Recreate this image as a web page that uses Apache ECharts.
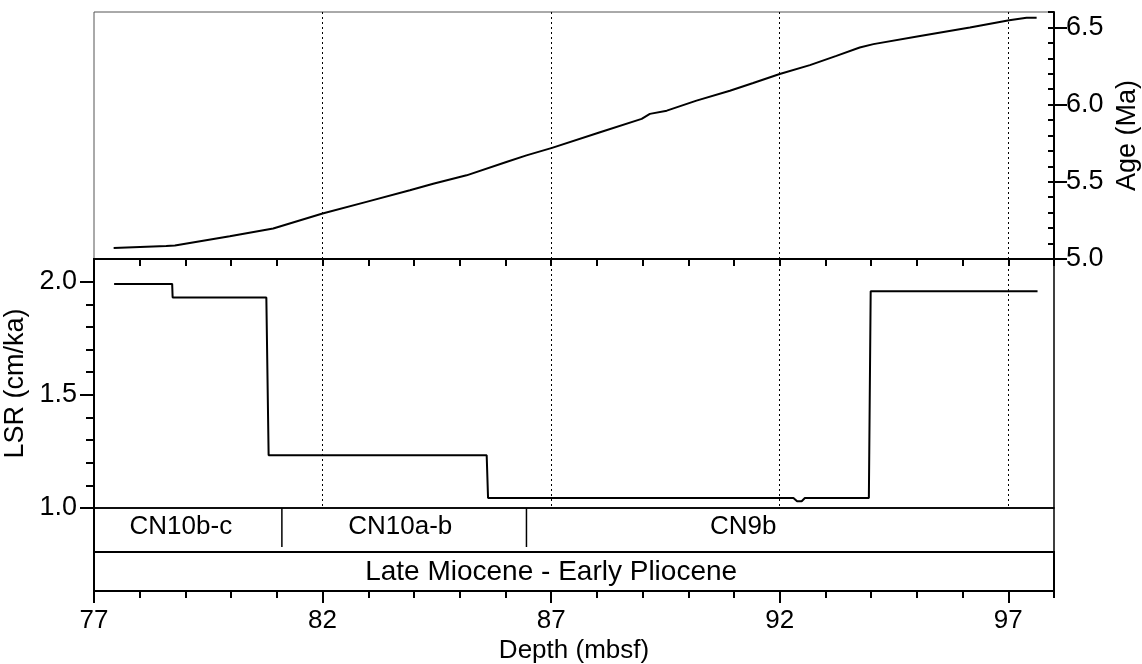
<!DOCTYPE html>
<html>
<head>
<meta charset="utf-8">
<script src="https://cdn.jsdelivr.net/npm/echarts@6/dist/echarts.min.js"></script>
<style>
  html, body { margin: 0; padding: 0; background: #fff; }
  #chart { width: 1142px; height: 664px; }
</style>
</head>
<body>
<div id="chart"></div>
<script>
// Age model: depth (mbsf) vs. age (Ma)
const ageDepth = [77.43, 78.58, 78.77, 79.97, 80.92, 82.00, 82.96, 83.91, 84.42, 85.15, 86.02, 86.46, 87.02, 88.07, 88.98, 89.16, 89.53, 90.18, 90.91, 91.42, 92.00, 92.66, 93.24, 93.75, 94.05, 95.07, 96.16, 97.02, 97.40, 97.62];
const ageMa    = [5.071, 5.084, 5.088, 5.148, 5.198, 5.295, 5.370, 5.445, 5.488, 5.542, 5.628, 5.671, 5.720, 5.821, 5.908, 5.940, 5.961, 6.026, 6.090, 6.140, 6.198, 6.256, 6.316, 6.370, 6.392, 6.445, 6.499, 6.546, 6.563, 6.563];

// Linear sedimentation rate: depth (mbsf) vs. LSR (cm/ka)
const lsrDepth = [77.44, 78.71, 78.72, 80.77, 80.82, 85.59, 85.62, 92.30, 92.38, 92.48, 92.55, 93.95, 93.99, 97.64];
const lsrRate  = [1.99, 1.99, 1.93, 1.93, 1.233, 1.233, 1.044, 1.044, 1.030, 1.030, 1.044, 1.044, 1.958, 1.958];

// Nannofossil zones and the epoch band
const zoneNames = ['CN10b-c', 'CN10a-b', 'CN9b'];
const zoneTop   = [77, 81.11, 86.46];
const zoneBase  = [81.11, 86.46, 98];
const zoneLabelAt = [78.9, 83.7, 91.2];
const epochName = 'Late Miocene - Early Pliocene';
const epochLabelAt = 87;

// Tick labels
const depthTicks = [77, 82, 87, 92, 97];
const ageTicks = [5.0, 5.5, 6.0, 6.5];
const lsrTicks = [1.0, 1.5, 2.0];

const FONT = 'Liberation Sans, Arial, sans-serif';
const chart = echarts.init(document.getElementById('chart'), null, { renderer: 'canvas' });

const dotted = { show: true, showMinLine: false, showMaxLine: false, lineStyle: { color: '#000', width: 1, type: [2, 3] } };

const gridBase = { left: 94, right: 88, containLabel: false, outerBoundsMode: 'none', show: true, backgroundColor: 'transparent' };

const option = {
  animation: false,
  backgroundColor: '#fff',
  grid: [
    Object.assign({}, gridBase, { top: 12, height: 247, borderColor: '#555', borderWidth: 1 }),
    Object.assign({}, gridBase, { top: 259, height: 249, borderColor: '#000', borderWidth: 1.5 }),
    Object.assign({}, gridBase, { top: 508, height: 44, borderColor: '#000', borderWidth: 1.5 }),
    Object.assign({}, gridBase, { top: 552, height: 39, borderColor: '#000', borderWidth: 2 })
  ],
  xAxis: [
    { // 0: base of the age panel
      type: 'value', gridIndex: 0, position: 'bottom', min: 77, max: 98, interval: 5,
      axisLine: { show: true, lineStyle: { color: '#000', width: 2 } },
      axisTick: { show: false }, axisLabel: { show: false }, splitLine: dotted
    },
    { // 1: top of the LSR panel, small ticks pointing down
      type: 'value', gridIndex: 1, position: 'top', min: 77, max: 98, interval: 1,
      axisLine: { show: true, lineStyle: { color: '#000', width: 2 } },
      axisTick: { show: true, inside: true, length: 7, lineStyle: { color: '#000', width: 2 } },
      axisLabel: { show: false }, splitLine: { show: false }
    },
    { // 2: base of the LSR panel with dotted guides
      type: 'value', gridIndex: 1, position: 'bottom', min: 77, max: 98, interval: 5,
      axisLine: { show: false }, axisTick: { show: false }, axisLabel: { show: false }, splitLine: dotted
    },
    { // 3: zone row
      type: 'value', gridIndex: 2, min: 77, max: 98, show: false
    },
    { // 4: depth axis with labels
      type: 'value', gridIndex: 3, position: 'bottom', min: 77, max: 98, interval: 5,
      axisLine: { show: true, lineStyle: { color: '#000', width: 2 } },
      axisTick: { show: true, length: 12, customValues: depthTicks, lineStyle: { color: '#000', width: 2 } },
      axisLabel: { show: true, customValues: depthTicks, margin: 17, color: '#000', fontSize: 26, fontFamily: FONT },
      splitLine: { show: false },
      name: 'Depth (mbsf)', nameLocation: 'middle', nameGap: 47,
      nameTextStyle: { color: '#000', fontSize: 26, fontFamily: FONT }
    },
    { // 5: unit ticks on the depth axis
      type: 'value', gridIndex: 3, position: 'bottom', min: 77, max: 98, interval: 1,
      axisLine: { show: false },
      axisTick: { show: true, length: 7, lineStyle: { color: '#000', width: 2 } },
      axisLabel: { show: false }, splitLine: { show: false }
    }
  ],
  yAxis: [
    { // 0: age axis on the right
      type: 'value', gridIndex: 0, position: 'right', min: 5.0, max: 6.6, interval: 0.5,
      axisLine: { show: true, lineStyle: { color: '#000', width: 2 } },
      axisTick: { show: true, length: 13, customValues: ageTicks, lineStyle: { color: '#000', width: 2 } },
      axisLabel: { show: true, customValues: ageTicks, margin: 12, color: '#000', fontSize: 27, fontFamily: FONT,
                   formatter: v => v.toFixed(1) },
      splitLine: { show: false },
      name: 'Age (Ma)', nameLocation: 'middle', nameGap: 60,
      nameTextStyle: { color: '#000', fontSize: 27, fontFamily: FONT }
    },
    { // 1: inner ticks of the age axis
      type: 'value', gridIndex: 0, position: 'right', min: 5.0, max: 6.6, interval: 0.1,
      axisLine: { show: false },
      axisTick: { show: true, inside: true, length: 6, lineStyle: { color: '#000', width: 2 } },
      axisLabel: { show: false }, splitLine: { show: false }
    },
    { // 2: LSR axis on the left
      type: 'value', gridIndex: 1, position: 'left', min: 1.0, max: 2.1, interval: 0.5,
      axisLine: { show: true, lineStyle: { color: '#000', width: 2 } },
      axisTick: { show: true, length: 14, customValues: lsrTicks, lineStyle: { color: '#000', width: 2 } },
      minorTick: { show: true, splitNumber: 5, length: 8, lineStyle: { color: '#000', width: 2 } },
      axisLabel: { show: true, customValues: lsrTicks, margin: 17, color: '#000', fontSize: 27, fontFamily: FONT,
                   formatter: v => v.toFixed(1) },
      splitLine: { show: false },
      name: 'LSR (cm/ka)', nameLocation: 'middle', nameGap: 55,
      nameTextStyle: { color: '#000', fontSize: 27, fontFamily: FONT }
    },
    { // 3: zone row
      type: 'value', gridIndex: 2, min: 0, max: 1,
      axisLine: { show: true, lineStyle: { color: '#000', width: 2 } },
      axisTick: { show: false }, axisLabel: { show: false }, splitLine: { show: false }
    },
    { // 4: epoch row
      type: 'value', gridIndex: 3, min: 0, max: 1,
      axisLine: { show: true, lineStyle: { color: '#000', width: 2 } },
      axisTick: { show: false }, axisLabel: { show: false }, splitLine: { show: false }
    }
  ],
  series: [
    {
      name: 'Age', type: 'line', xAxisIndex: 0, yAxisIndex: 0,
      data: ageDepth.map((d, i) => [d, ageMa[i]]),
      symbol: 'none', lineStyle: { color: '#000', width: 2 }, silent: true
    },
    {
      name: 'LSR', type: 'line', xAxisIndex: 2, yAxisIndex: 2,
      data: lsrDepth.map((d, i) => [d, lsrRate[i]]),
      symbol: 'none', lineStyle: { color: '#000', width: 2 }, silent: true
    },
    {
      name: 'Zones', type: 'custom', xAxisIndex: 3, yAxisIndex: 3, silent: true, clip: false,
      data: zoneNames.map((n, i) => [zoneTop[i], zoneBase[i], zoneLabelAt[i]]),
      renderItem: function (params, api) {
        const cs = params.coordSys;
        const i = params.dataIndex;
        const children = [{
          type: 'text',
          style: {
            text: zoneNames[i], x: api.coord([api.value(2), 0.5])[0], y: cs.y + cs.height * 0.42,
            align: 'center', verticalAlign: 'middle', fill: '#000', fontSize: 26, fontFamily: FONT
          }
        }];
        if (i > 0) {
          const x = api.coord([api.value(0), 0])[0];
          children.push({
            type: 'line',
            shape: { x1: x, y1: cs.y, x2: x, y2: cs.y + cs.height - 5 },
            style: { stroke: '#000', lineWidth: 1.5 }
          });
        }
        return { type: 'group', children: children };
      }
    },
    {
      name: 'Epoch', type: 'custom', xAxisIndex: 4, yAxisIndex: 4, silent: true, clip: false,
      data: [[epochLabelAt]],
      renderItem: function (params, api) {
        const cs = params.coordSys;
        return {
          type: 'text',
          style: {
            text: epochName, x: api.coord([api.value(0), 0.5])[0], y: cs.y + cs.height / 2 + 1,
            align: 'center', verticalAlign: 'middle', fill: '#000', fontSize: 28, fontFamily: FONT
          }
        };
      }
    }
  ]
};

chart.setOption(option);
</script>
</body>
</html>
